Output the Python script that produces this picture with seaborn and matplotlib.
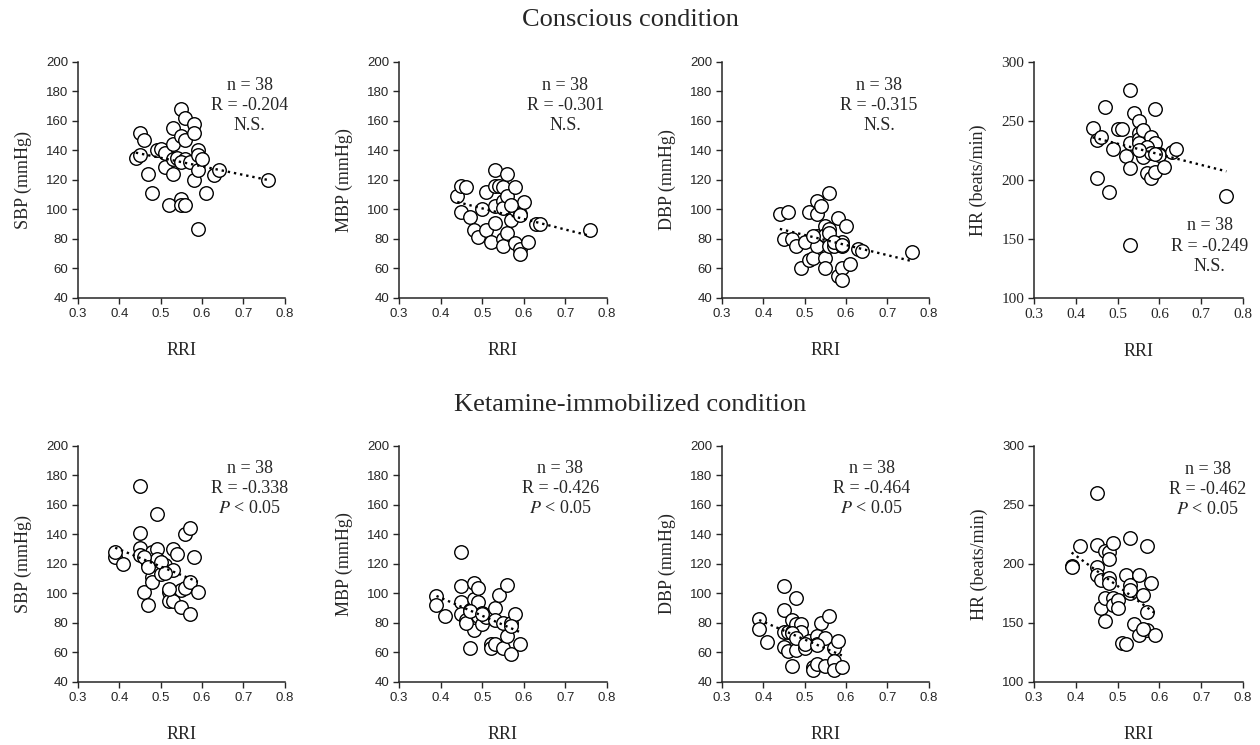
import matplotlib
matplotlib.use('Agg')
import matplotlib.pyplot as plt
import seaborn as sns

# ---- data (RRI vs cardiovascular parameter) ----
# Conscious condition
con_sbp_rri = [0.44, 0.45, 0.45, 0.46, 0.47, 0.48, 0.49, 0.50, 0.51, 0.51, 0.52, 0.53, 0.53,
               0.53, 0.53, 0.54, 0.55, 0.55, 0.55, 0.55, 0.56, 0.56, 0.56, 0.56, 0.55, 0.57,
               0.58, 0.58, 0.58, 0.59, 0.59, 0.59, 0.59, 0.60, 0.61, 0.63, 0.64, 0.76]
con_sbp = [135, 137, 152, 147, 124, 111, 140, 141, 138, 129, 103, 155, 144,
           124, 134, 135, 168, 150, 107, 103, 162, 147, 103, 134, 132, 132,
           158, 152, 120, 140, 137, 127, 87, 134, 111, 123, 127, 120]

con_mbp_rri = [0.44, 0.45, 0.46, 0.45, 0.47, 0.48, 0.49, 0.50, 0.51, 0.51, 0.52, 0.53, 0.53,
               0.53, 0.53, 0.54, 0.55, 0.55, 0.55, 0.55, 0.55, 0.56, 0.56, 0.56, 0.57, 0.58,
               0.58, 0.58, 0.59, 0.59, 0.59, 0.59, 0.60, 0.61, 0.63, 0.64, 0.76, 0.57]
con_mbp = [109, 116, 115, 98, 95, 86, 81, 100, 112, 86, 78, 127, 116,
           102, 91, 116, 115, 106, 101, 80, 75, 124, 109, 84, 93, 115,
           100, 77, 97, 96, 73, 70, 105, 78, 90, 90, 86, 103]

con_dbp_rri = [0.44, 0.45, 0.46, 0.47, 0.48, 0.49, 0.50, 0.51, 0.51, 0.52, 0.53, 0.53, 0.53,
               0.53, 0.54, 0.55, 0.55, 0.55, 0.55, 0.56, 0.56, 0.56, 0.56, 0.57, 0.58, 0.58,
               0.59, 0.59, 0.59, 0.59, 0.60, 0.61, 0.63, 0.64, 0.76, 0.52, 0.57, 0.59]
con_dbp = [97, 80, 98, 80, 75, 60, 78, 98, 66, 67, 106, 97, 82,
           75, 102, 89, 83, 67, 60, 111, 87, 84, 75, 75, 94, 55,
           78, 75, 60, 52, 89, 63, 73, 72, 71, 82, 78, 76]

con_hr_rri = [0.44, 0.45, 0.46, 0.45, 0.47, 0.48, 0.49, 0.50, 0.51, 0.52, 0.53, 0.53, 0.53,
              0.53, 0.54, 0.55, 0.55, 0.55, 0.55, 0.56, 0.56, 0.56, 0.57, 0.58, 0.58, 0.59,
              0.59, 0.59, 0.60, 0.60, 0.61, 0.63, 0.64, 0.76, 0.57, 0.58, 0.55, 0.59]
con_hr = [244, 234, 236, 202, 262, 190, 226, 243, 243, 220, 276, 231, 210,
          145, 257, 250, 240, 235, 231, 242, 225, 219, 206, 236, 202, 260,
          231, 207, 222, 221, 211, 224, 226, 186, 228, 223, 225, 222]

# Ketamine-immobilized condition
ket_sbp_rri = [0.39, 0.39, 0.41, 0.45, 0.45, 0.45, 0.45, 0.46, 0.47, 0.47, 0.48, 0.48, 0.48,
               0.49, 0.49, 0.49, 0.50, 0.51, 0.52, 0.52, 0.53, 0.53, 0.53, 0.54, 0.55, 0.55,
               0.56, 0.56, 0.57, 0.57, 0.57, 0.58, 0.59, 0.46, 0.47, 0.50, 0.51, 0.52]
ket_sbp = [125, 128, 120, 173, 141, 131, 126, 101, 92, 120, 128, 111, 108,
           154, 130, 123, 113, 119, 101, 95, 130, 116, 95, 127, 102, 91,
           140, 104, 144, 108, 86, 125, 101, 125, 118, 121, 114, 103]

ket_mbp_rri = [0.39, 0.39, 0.41, 0.45, 0.45, 0.45, 0.45, 0.46, 0.47, 0.47, 0.48, 0.48, 0.48,
               0.48, 0.49, 0.49, 0.49, 0.50, 0.50, 0.51, 0.52, 0.52, 0.53, 0.53, 0.53, 0.54,
               0.55, 0.55, 0.56, 0.56, 0.57, 0.57, 0.58, 0.59, 0.46, 0.47, 0.50, 0.57]
ket_mbp = [98, 92, 85, 128, 105, 94, 86, 82, 89, 63, 107, 96, 75,
           84, 104, 94, 85, 87, 79, 84, 66, 63, 90, 82, 66, 99,
           80, 63, 106, 71, 80, 59, 86, 66, 80, 88, 86, 78]

ket_dbp_rri = [0.39, 0.39, 0.41, 0.45, 0.45, 0.45, 0.45, 0.46, 0.46, 0.47, 0.47, 0.47, 0.48,
               0.48, 0.48, 0.48, 0.49, 0.49, 0.50, 0.51, 0.52, 0.52, 0.53, 0.53, 0.53, 0.54,
               0.55, 0.55, 0.56, 0.57, 0.57, 0.57, 0.58, 0.59, 0.47, 0.48, 0.50, 0.53]
ket_dbp = [83, 76, 67, 105, 89, 74, 64, 74, 61, 82, 74, 51, 97,
           79, 71, 62, 79, 74, 63, 68, 50, 48, 71, 66, 52, 80,
           70, 51, 85, 63, 54, 48, 68, 50, 73, 70, 66, 65]

ket_hr_rri = [0.39, 0.39, 0.41, 0.45, 0.45, 0.45, 0.45, 0.46, 0.46, 0.47, 0.47, 0.47, 0.48,
              0.48, 0.48, 0.48, 0.49, 0.49, 0.49, 0.50, 0.50, 0.51, 0.52, 0.52, 0.53, 0.53,
              0.53, 0.54, 0.55, 0.55, 0.56, 0.57, 0.57, 0.57, 0.58, 0.59, 0.53, 0.56]
ket_hr = [198, 197, 215, 260, 216, 197, 191, 186, 163, 211, 171, 152, 210,
          204, 188, 184, 218, 171, 165, 169, 163, 133, 191, 132, 222, 182,
          175, 149, 191, 140, 174, 215, 159, 144, 184, 140, 178, 145]

bp_label = ['SBP (mmHg)', 'MBP (mmHg)', 'DBP (mmHg)', 'HR (beats/min)']
con_r = ['-0.204', '-0.301', '-0.315', '-0.249']
ket_r = ['-0.338', '-0.426', '-0.464', '-0.462']

sns.set_style('ticks')
plt.rcParams['font.family'] = ['Liberation Serif', 'DejaVu Serif']
plt.rcParams['mathtext.fontset'] = 'stix'

fig = plt.figure(figsize=(12.6, 7.45), dpi=100)

lefts = [0.0619, 0.3167, 0.573, 0.8206]
widths = [0.164, 0.165, 0.164, 0.166]

rows = [
    dict(bottom=0.600, title='Conscious condition', title_y=0.973,
         xs=[con_sbp_rri, con_mbp_rri, con_dbp_rri, con_hr_rri],
         ys=[con_sbp, con_mbp, con_dbp, con_hr], r=con_r, sig='N.S.',
         txt=[(0.83, 0.815), (0.80, 0.815), (0.76, 0.815), (0.84, 0.22)],
         serif_ticks=[False, False, False, True]),
    dict(bottom=0.0846, title='Ketamine-immobilized condition', title_y=0.456,
         xs=[ket_sbp_rri, ket_mbp_rri, ket_dbp_rri, ket_hr_rri],
         ys=[ket_sbp, ket_mbp, ket_dbp, ket_hr], r=ket_r, sig='$P$ < 0.05',
         txt=[(0.83, 0.82), (0.775, 0.82), (0.725, 0.82), (0.83, 0.815)],
         serif_ticks=[False, False, False, False]),
]

for row in rows:
    fig.text(0.5, row['title_y'], row['title'], ha='center', va='center', fontsize=19)
    for i in range(4):
        ax = fig.add_axes([lefts[i], row['bottom'], widths[i], 0.317])
        sns.regplot(x=row['xs'][i], y=row['ys'][i], ax=ax, ci=None, color='black',
                    scatter_kws=dict(s=95, facecolor='white', edgecolor='black',
                                     linewidths=1.0, alpha=1, zorder=2),
                    line_kws=dict(color='black', ls=':', lw=1.7, zorder=3))
        ax.set_xlim(0.3, 0.8)
        ax.set_xticks([0.3, 0.4, 0.5, 0.6, 0.7, 0.8])
        if i == 3:
            ax.set_ylim(100, 300)
            ax.set_yticks([100, 150, 200, 250, 300])
        else:
            ax.set_ylim(40, 200)
            ax.set_yticks([40, 60, 80, 100, 120, 140, 160, 180, 200])
        sns.despine(ax=ax)
        for sp in ['left', 'bottom']:
            ax.spines[sp].set_linewidth(1.1)
        ax.tick_params(length=4, width=1.0, labelsize=9.5, pad=3)
        tick_family = 'Liberation Serif' if row['serif_ticks'][i] else 'Liberation Sans'
        for lab in ax.get_xticklabels() + ax.get_yticklabels():
            lab.set_family(tick_family)
            if row['serif_ticks'][i]:
                lab.set_fontsize(11)
        ax.set_xlabel('RRI', fontsize=13, labelpad=16)
        ax.set_ylabel(bp_label[i], fontsize=13, labelpad=10)
        tx, ty = row['txt'][i]
        ax.text(tx, ty, 'n = 38\nR = ' + row['r'][i] + '\n' + row['sig'],
                transform=ax.transAxes, ha='center', va='center',
                fontsize=13, linespacing=1.25)

fig.savefig('out.png', dpi=100)
